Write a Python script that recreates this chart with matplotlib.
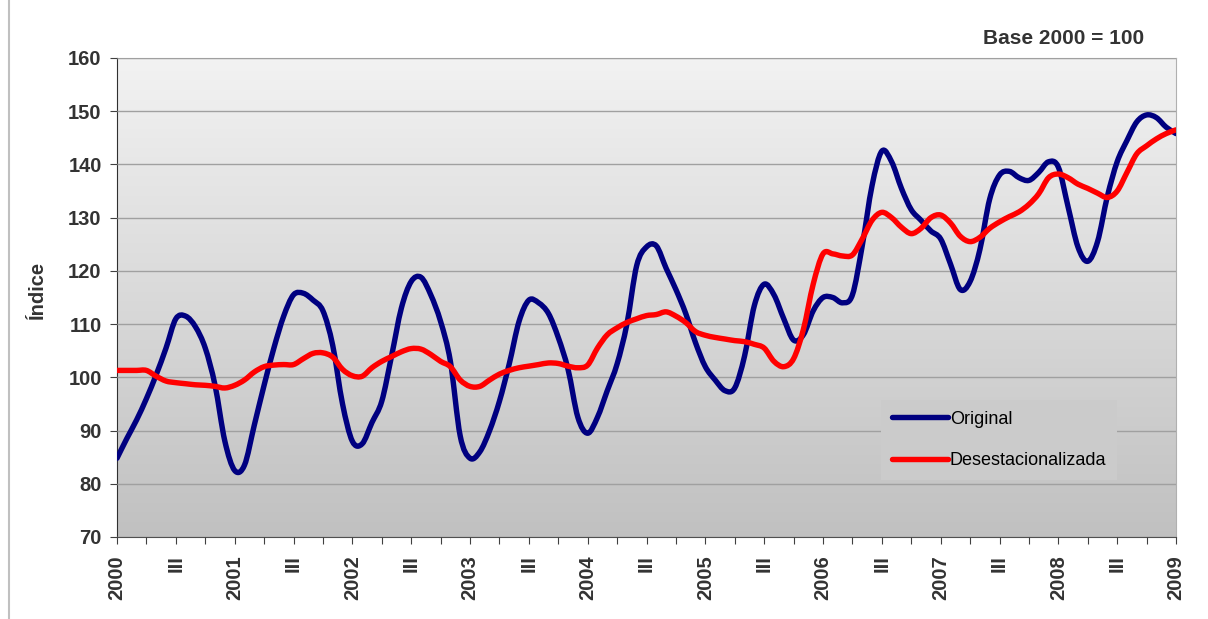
import numpy as np
import matplotlib.pyplot as plt
from matplotlib.lines import Line2D
from matplotlib.path import Path
from matplotlib.patches import PathPatch

plt.rcParams['font.family'] = ['Liberation Sans', 'DejaVu Sans']

# monthly index, Jan 2000 .. Jan 2009
years = ['2000', '2001', '2002', '2003', '2004', '2005', '2006', '2007', '2008', '2009']

original = [
    84.8, 88.5, 92.0, 96.0, 100.5, 105.5, 111.0, 111.5, 109.5, 105.5, 98.5, 88.0,
    82.5, 83.5, 91.0, 98.5, 105.5, 111.5, 115.5, 115.8, 114.5, 112.5, 106.0, 95.0,
    88.0, 87.5, 91.5, 95.5, 104.0, 113.0, 118.0, 118.8, 115.5, 110.5, 103.0, 89.0,
    84.8, 86.0, 90.0, 95.5, 102.5, 110.5, 114.5, 114.0, 112.0, 107.5, 101.5, 92.5,
    89.5, 92.5, 97.5, 102.5, 110.0, 121.0, 124.5, 124.7, 120.5, 116.5, 112.0, 106.5,
    102.0, 99.5, 97.5, 98.0, 104.0, 113.5, 117.5, 115.5, 111.0, 107.0, 108.0, 112.5,
    115.0, 115.0, 114.0, 115.5, 124.7, 136.0, 142.5, 140.5, 135.5, 131.5, 129.5, 127.5,
    126.0, 121.3, 116.5, 118.0, 124.0, 133.5, 138.0, 138.7, 137.5, 137.0, 138.5, 140.5,
    139.5, 132.0, 124.5, 121.8, 125.5, 134.0, 140.5, 144.5, 148.0, 149.3, 148.8, 147.0,
    145.8,
]

desest = [
    101.3, 101.3, 101.3, 101.3, 100.2, 99.3, 99.0, 98.8, 98.6, 98.5, 98.3, 98.0,
    98.5, 99.5, 101.0, 102.0, 102.3, 102.4, 102.4, 103.5, 104.5, 104.6, 103.8, 101.5,
    100.3, 100.2, 101.8, 103.0, 103.9, 104.8, 105.4, 105.3, 104.3, 103.0, 102.0, 99.5,
    98.3, 98.3, 99.5, 100.6, 101.3, 101.8, 102.1, 102.4, 102.7, 102.6, 102.1, 101.8,
    102.3, 105.5, 108.0, 109.3, 110.3, 111.0, 111.6, 111.8, 112.3, 111.5, 110.3, 108.6,
    107.9, 107.5, 107.2, 106.9, 106.7, 106.2, 105.5, 103.0, 102.0, 103.5, 109.0, 117.5,
    123.2, 123.2, 122.8, 123.0, 126.0, 129.5, 131.0, 130.0, 128.2, 127.0, 128.0, 130.0,
    130.5, 129.0, 126.5, 125.5, 126.3, 128.0, 129.2, 130.2, 131.1, 132.5, 134.5, 137.5,
    138.2, 137.5, 136.3, 135.5, 134.6, 133.8, 135.0, 138.5, 142.0, 143.5, 144.8, 145.8,
    146.5,
]

months = np.arange(len(original))


def smooth_path(x, y):
    # Bezier path through the points (like Excel's "smoothed line")
    x = np.asarray(x, float)
    y = np.asarray(y, float)
    verts = [(x[0], y[0])]
    codes = [Path.MOVETO]
    n = len(x)
    for i in range(n - 1):
        p0 = max(i - 1, 0)
        p3 = min(i + 2, n - 1)
        c1 = (x[i] + (x[i + 1] - x[p0]) / 6, y[i] + (y[i + 1] - y[p0]) / 6)
        c2 = (x[i + 1] - (x[p3] - x[i]) / 6, y[i + 1] - (y[p3] - y[i]) / 6)
        verts += [c1, c2, (x[i + 1], y[i + 1])]
        codes += [Path.CURVE4] * 3
    return Path(verts, codes)


fig = plt.figure(figsize=(12.08, 6.19), dpi=100)
ax = fig.add_axes([117 / 1208, 1 - 537 / 619, 1059 / 1208, 479 / 619])

# grey gradient plot area
cols = np.linspace(0.95, 0.755, 256).reshape(-1, 1)
ax.imshow(np.dstack([cols, cols, cols]), extent=[0, 108, 70, 160],
          aspect='auto', origin='upper', zorder=0)

ax.set_xlim(0, 108)
ax.set_ylim(70, 160)
ax.set_yticks(np.arange(70, 161, 10))
ax.yaxis.grid(True, color='#a0a0a0', linewidth=1.0, zorder=1)
ax.set_axisbelow(False)

lw = 3.9
ax.add_patch(PathPatch(smooth_path(months, original), fill=False,
                       edgecolor='#000080', lw=lw, joinstyle='round',
                       capstyle='round', zorder=3))
ax.add_patch(PathPatch(smooth_path(months, desest), fill=False,
                       edgecolor='#ff0000', lw=lw, joinstyle='round',
                       capstyle='round', zorder=4))

xt = np.arange(0, 109, 3)
labels = []
for m in xt:
    if m % 12 == 0:
        labels.append(years[m // 12])
    elif m % 12 == 6:
        labels.append('III')
    else:
        labels.append('')
ax.set_xticks(xt)
ax.set_xticklabels(labels, rotation=90, fontsize=14.5, fontweight='bold',
                   color='#333333', va='top')
ax.tick_params(axis='x', length=5, pad=8, color='#404040')
ax.tick_params(axis='y', length=5, pad=6, color='#404040',
               labelsize=14.5, labelcolor='#333333')
for t in ax.get_yticklabels():
    t.set_fontweight('bold')

ax.spines['left'].set_color('#303030')
ax.spines['bottom'].set_color('#505050')
ax.spines['top'].set_color('#b0b0b0')
ax.spines['right'].set_color('#b0b0b0')

ax.set_ylabel('Índice', fontsize=14.5, fontweight='bold', color='#333333')
ax.yaxis.set_label_coords(-0.066, 0.516)

fig.text(1064 / 1208, 1 - 38 / 619, 'Base 2000 = 100', ha='center', va='center',
         fontsize=15, fontweight='bold', color='#333333')

handles = [Line2D([], [], color='#000080', lw=lw, solid_capstyle='round'),
           Line2D([], [], color='#ff0000', lw=lw, solid_capstyle='round')]
leg = ax.legend(handles, ['Original', 'Desestacionalizada'], loc='center',
                bbox_to_anchor=(999 / 1208, 1 - 440 / 619),
                bbox_transform=fig.transFigure, frameon=True, fontsize=13,
                handlelength=3.1, handletextpad=0.1, labelspacing=1.35,
                borderpad=0.6, borderaxespad=0, fancybox=False)
leg.get_frame().set_facecolor('#cbcbcb')
leg.get_frame().set_edgecolor('none')
leg.get_frame().set_alpha(1)

fig.add_artist(Line2D([9 / 1208, 9 / 1208], [0, 1], color='#c0c0c0', lw=1.5))

fig.savefig('out.png', dpi=100)
